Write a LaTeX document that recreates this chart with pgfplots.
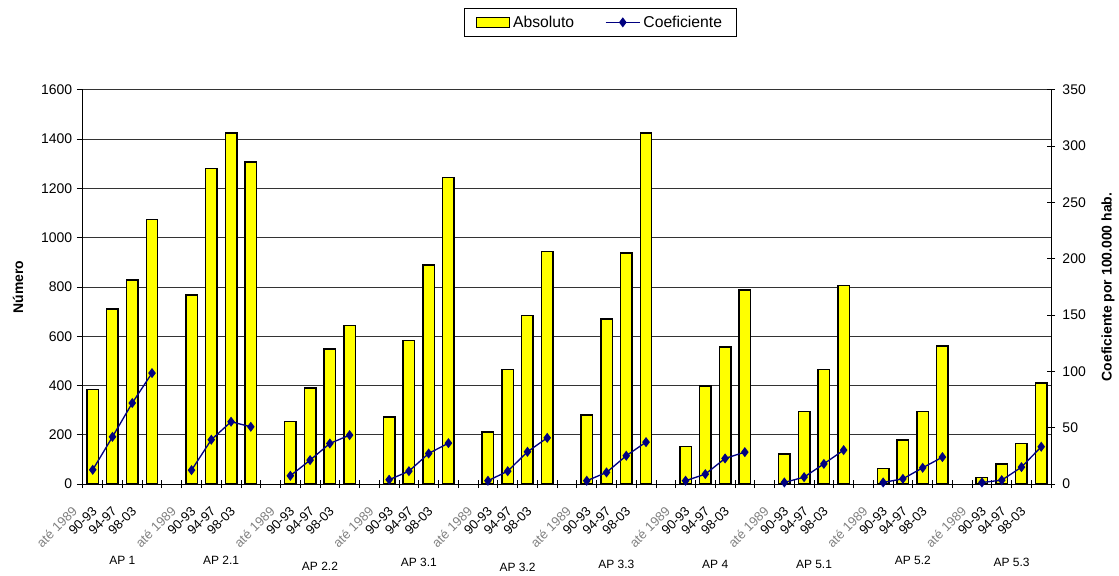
\documentclass[border=0pt]{standalone}
\usepackage{fontspec}
\setmainfont{Liberation Sans}
\usepackage{pgfplots}
\usepackage{pgfplotstable}
\pgfplotsset{compat=1.18}

\definecolor{baryellow}{RGB}{255,255,0}
\definecolor{linenavy}{RGB}{0,0,128}

\pgfplotsset{
  barlegend/.style={legend image code/.code={\draw[##1, line width=0.8pt] (0pt,-3.75pt) rectangle (25pt,3.75pt);}},
  linelegend/.style={legend image code/.code={\draw[mark repeat=2, mark phase=2, ##1] plot coordinates {(0pt,0pt) (13pt,0pt) (26pt,0pt)};}},
}

% slot, absolute number, coefficient per 100.000 inhabitants
\pgfplotstableread{
x  abs   coef
0  383   12.7
1  710   42.0
2  828   72.0
3  1073  98.6
4  nan   nan
5  767   12.4
6  1280  39.4
7  1425  55.4
8  1307  50.9
9  nan   nan
10 254   7.4
11 390   21.3
12 548   36.1
13 643   43.5
14 nan   nan
15 273   3.9
16 582   11.5
17 890   27.2
18 1245  36.4
19 nan   nan
20 212   3.0
21 465   11.5
22 685   28.7
23 945   41.1
24 nan   nan
25 281   3.0
26 671   10.4
27 938   25.2
28 1425  37.3
29 nan   nan
30 152   3.0
31 399   8.9
32 556   22.8
33 788   28.4
34 nan   nan
35 123   1.5
36 295   6.2
37 465   18.0
38 806   30.2
39 nan   nan
40 64    1.5
41 179   4.7
42 295   14.5
43 560   24.0
44 nan   nan
45 28    1.5
46 81    3.5
47 164   15.1
48 411   33.2
}\datatable

\newcommand{\ate}{\textcolor{black!50}{até 1989}}
\newcommand{\grouplabel}[3]{\node[font=\fontsize{9}{11}\selectfont, anchor=center] at ([yshift=-#3pt]axis cs:#1,0) {#2};}

\begin{document}
\begin{tikzpicture}
\pgfplotsset{
  common/.style={
    at={(0,0)}, anchor=south west,
    scale only axis, width=727.5pt, height=296.25pt,
    xmin=-0.5, xmax=48.5, ymin=0,
    /pgf/number format/assume math mode=true,
    /pgf/number format/set thousands separator={},
    tick label style={font=\fontsize{10.5}{12}\selectfont},
    axis line style={black, line width=0.8pt},
    major tick style={black, line width=0.6pt},
    minor tick style={black, line width=0.6pt},
  },
}
\begin{axis}[
  common,
  clip=false,
  ymax=1600,
  axis lines*=left,
  ytick={0,200,...,1600},
  ytick align=outside,
  major tick length=4.5pt,
  ymajorgrids,
  grid style={black!80, line width=0.6pt},
  xtick={0,1,2,3,5,6,7,8,10,11,12,13,15,16,17,18,20,21,22,23,25,26,27,28,30,31,32,33,35,36,37,38,40,41,42,43,45,46,47,48},
  xticklabels={\ate,90-93,94-97,98-03,\ate,90-93,94-97,98-03,\ate,90-93,94-97,98-03,\ate,90-93,94-97,98-03,\ate,90-93,94-97,98-03,\ate,90-93,94-97,98-03,\ate,90-93,94-97,98-03,\ate,90-93,94-97,98-03,\ate,90-93,94-97,98-03,\ate,90-93,94-97,98-03},
  x tick style={draw=none},
  xticklabel style={anchor=east, xshift=-11pt, yshift=-14pt, rotate=45, font=\fontsize{9.8}{11}\selectfont},
  minor xtick={-0.5,0.5,...,48.5},
  minor x tick style={draw=black, line width=0.6pt},
  minor tick length=6pt,
  xtick align=center,
  every axis y label/.style={at={(axis description cs:-0.067,0.5)}, rotate=90, anchor=center, font=\fontsize{10.5}{12}\selectfont\bfseries},
  ylabel={Número},
  legend style={at={(axis description cs:0.5345,1.2076)}, anchor=north,
    draw=black, line width=0.6pt, legend columns=2,
    font=\fontsize{11.8}{13}\selectfont,
    inner xsep=9pt, inner ysep=3.5pt,
    /tikz/every even column/.append style={column sep=21pt}},
  legend cell align=left,
]
\addplot[ybar, bar width=0.58, bar shift=0pt, fill=baryellow, draw=black, line width=1.1pt, barlegend]
  table[x=x, y=abs] {\datatable};
\addlegendentry{Absoluto}
\addlegendimage{linenavy, line width=1pt, mark=diamond*, mark size=3pt,
  mark options={fill=linenavy, draw=linenavy}, linelegend}
\addlegendentry{Coeficiente}

\grouplabel{1.5}{AP 1}{57.5}
\grouplabel{6.5}{AP 2.1}{57.5}
\grouplabel{11.5}{AP 2.2}{61.5}
\grouplabel{16.5}{AP 3.1}{58.5}
\grouplabel{21.5}{AP 3.2}{62.5}
\grouplabel{26.5}{AP 3.3}{60.5}
\grouplabel{31.5}{AP 4}{60.5}
\grouplabel{36.5}{AP 5.1}{60.5}
\grouplabel{41.5}{AP 5.2}{57.5}
\grouplabel{46.5}{AP 5.3}{58.5}
\end{axis}

\begin{axis}[
  common,
  ymax=350,
  axis x line=none,
  axis y line*=right,
  ytick={0,50,...,350},
  ytick align=center,
  major tick length=6pt,
  yticklabel style={xshift=2pt},
  every axis y label/.style={at={(axis description cs:1.0588,0.5)}, rotate=90, anchor=center, font=\fontsize{10.5}{12}\selectfont\bfseries},
  ylabel={Coeficiente por 100.000 hab.},
  unbounded coords=jump,
]
\addplot[linenavy, line width=1pt, mark=diamond*, mark size=3pt,
  mark options={fill=linenavy, draw=linenavy}]
  table[x=x, y=coef] {\datatable};
\end{axis}

\path (-62.25pt,-65.25pt) rectangle (777pt,363.75pt);
\end{tikzpicture}
\end{document}
